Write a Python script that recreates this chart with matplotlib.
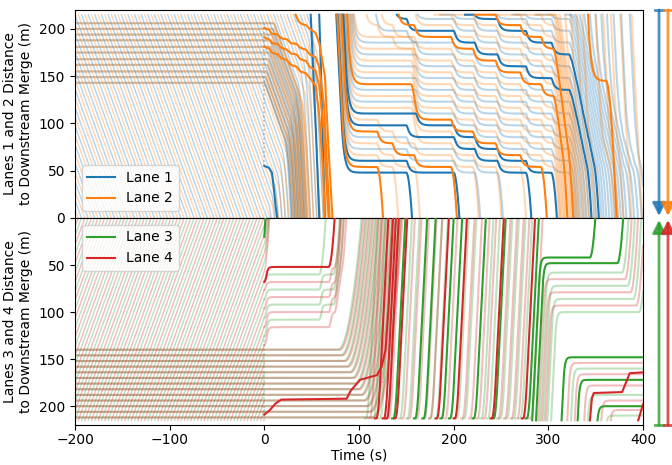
import numpy as np
import matplotlib
matplotlib.use("Agg")
import matplotlib.pyplot as plt
from matplotlib.lines import Line2D
from matplotlib.patches import FancyArrowPatch

BLUE, ORANGE, GREEN, RED = "#1f77b4", "#ff7f0e", "#2ca02c", "#d62728"

# vehicle model settings (m, s)
T_END = 400.0
DT = 0.25
ENTRY = 215.0      # upstream end of the zone
VF = 20.0          # free speed
ACC = 2.5          # max acceleration
TAU = 1.5          # approach time constant towards a stop position
CREEP = 2.8        # drift speed of the warm-up traffic
GAP = 12.5         # queue spacing per lane, lanes 1/2
GAP_LOW = 16.0     # queue spacing per lane, lanes 3/4

# ---------------- lanes 1 and 2 ----------------
# warm-up vehicles: time they pass 215 m
warm_l1 = [-277, -270, -263, -256, -249, -242, -235, -228, -221, -214, -207, -200,
           -193, -186, -179, -172, -165, -158, -151, -144, -137, -130, -123, -116,
           -109, -102, -95, -88, -81, -74, -67, -60, -53, -46, -39, -32, -25, -18,
           -11, -4, 3, 10, 17, 24, 31, 38, 45]
warm_l2 = [-273.5, -266.5, -259.5, -252.5, -245.5, -238.5, -231.5, -224.5, -217.5,
           -210.5, -203.5, -196.5, -189.5, -182.5, -175.5, -168.5, -161.5, -154.5,
           -147.5, -140.5, -133.5, -126.5, -119.5, -112.5, -105.5, -98.5, -91.5,
           -84.5, -77.5, -70.5, -63.5, -56.5, -49.5, -42.5, -35.5, -28.5, -21.5,
           -14.5, -7.5, -0.5, 6.5, 13.5, 20.5, 27.5, 34.5, 41.5]
# release front running upstream after t = 0, per lane: two points (t, y)
wave_l1 = [(4.0, 10.0), (52.0, 215.0)]
wave_l2 = [(7.0, 10.0), (64.0, 215.0)]
# vehicles standing before t = 0 and the time they start rolling
stand_top = [143, 149, 155, 162, 168, 175, 181, 188, 194, 200, 206]
stand_top_go = [0, 1, 2, 3, 4, 5, 6, 7, 8, 9, 10]

# queue after t = 70: arrival at 215 m and departure from the queue head
l1_arrive = [76, 77.5, 79, 80.5, 82, 83.5, 85, 86.5, 88, 90, 92, 94,
             118, 140, 162, 186, 212, 238, 262, 286,
             318, 323, 328, 333, 338, 344, 350, 356, 362, 369, 377, 386]
l1_depart = [150, 200, 222, 246, 276, 303,
             322, 324.6, 327.2, 329.8, 332.4, 335, 337.6, 340.2, 342.8, 345.4,
             348, 350.6, 353.2, 355.8,
             359, 362, 365, 368, 371, 374, 377, 381, 385, 389, 393, 397]
l1_bold = [0, 1, 4, 5, 13, 16]
# upper part of the first platoon stays put: index -> (position, until)
l1_hold = {5: (110.5, 160), 6: (123.0, 160), 7: (135.5, 160), 8: (148.0, 160),
           9: (160.5, 160), 10: (173.0, 160), 11: (185.5, 160)}

l2_arrive = [77, 78.5, 80, 81.5, 83, 84.5, 86, 87.5, 89, 91, 93, 95,
             108, 124, 142, 160, 180, 200, 222, 244, 266, 288,
             300, 306, 312, 318, 324, 330, 336, 342, 350, 358, 366, 376, 388]
l2_depart = [119, 135, 158, 197, 220, 244, 270, 292,
             305, 306.6, 308.2, 309.8, 311.4, 313, 314.6, 316.2, 317.8, 319.4,
             321, 322.6, 324.2, 325.8,
             328, 331, 334, 337, 340, 344, 348, 361, 364, 368, 374, 383, 394]
l2_bold = [0, 3, 7, 14, 18, 29]
l2_hold = {5: (116.5, 155), 6: (129.0, 155), 7: (141.5, 155), 8: (154.0, 155),
           9: (166.5, 155), 10: (179.0, 155), 11: (191.5, 155), 29: (145.0, 361.0)}

# highlighted vehicles already in the zone at t = 0
l1_paths = [
    [(0, 55), (5, 53), (8, 48), (10, 32), (12, 12), (13.5, 0)],
    [(49, 215), (52, 150), (55, 80), (58, 0)],
    [(58, 215), (60, 150), (62, 70), (64, 0)],
]
l2_paths = [
    [(0, 201), (5, 199), (8, 195), (14, 194), (18, 190), (24, 189), (28, 185), (34, 184),
     (38, 180), (44, 178), (48, 173), (54, 170), (58, 160), (63, 120), (66, 60), (69, 0)],
    [(0, 191), (5, 189), (8, 185), (14, 184), (18, 180), (24, 178), (28, 174), (34, 173),
     (38, 168), (44, 166), (48, 160), (54, 156), (58, 140), (63, 90), (66, 30), (68, 0)],
    [(0, 181), (5, 179), (8, 175), (14, 173), (18, 169), (24, 167), (28, 162), (34, 160),
     (38, 155), (44, 153), (49, 147), (54, 140), (58, 110), (62, 50), (64, 0)],
    [(33, 215), (36, 208), (40, 205), (44, 204), (48, 200), (54, 196), (58, 185),
     (64, 150), (68, 70), (72, 0)],
]
# faint dotted marker of the simulation start, (y from, y to) per panel
start_mark_top = (55, 205)
start_mark_low = (130, 212)

# ---------------- lanes 3 and 4 ----------------
warm_l3 = [-277, -270, -263, -256, -249, -242, -235, -228, -221, -214, -207, -200,
           -193, -186, -179, -172, -165, -158, -151, -144, -137, -130, -123, -116,
           -109, -102, -95, -88, -81, -74, -67, -60, -53, -46, -39, -32, -25, -18,
           -11, -4]
warm_l4 = [-273.5, -266.5, -259.5, -252.5, -245.5, -238.5, -231.5, -224.5, -217.5,
           -210.5, -203.5, -196.5, -189.5, -182.5, -175.5, -168.5, -161.5, -154.5,
           -147.5, -140.5, -133.5, -126.5, -119.5, -112.5, -105.5, -98.5, -91.5,
           -84.5, -77.5, -70.5, -63.5, -56.5, -49.5, -42.5, -35.5, -28.5, -21.5,
           -14.5, -7.5, -0.5]
stand_low = [140, 146, 152, 158, 164, 170, 176, 182, 188, 194, 200, 206, 212]
stand_l3_go = [78, 81, 84, 87, 90, 93, 96, 99, 102, 105, 108, 111, 114]
stand_l4_go = [79.5, 82.5, 85.5, 88.5, 91.5, 94.5, 97.5, 100.5, 103.5, 106.5, 109.5, 112.5, 115.5]

# vehicles caught between 60 m and 140 m at t = 0 leave at these times
l3_creep_depart = [58, 73, 75.5, 78]
l4_front = (68.0, 68.0)            # (position at t = 0, departure)
l4_creep_depart = [74, 76.5, 79, 81.5]

# through traffic: time each vehicle pulls away from the upstream end
l3_go = [106, 114, 121, 128, 135, 142, 150, 158, 167, 174, 180, 186, 195, 202, 210,
         220, 228, 235, 241, 248, 255, 262, 269, 276]
l3_bold = [4, 7, 8, 11, 12, 15, 18, 23]
l4_go = [110, 117, 125, 128, 130, 137, 145, 152, 160, 168, 174, 181, 190, 200, 208,
         216, 224, 231, 239, 246, 253, 260, 266, 272, 280]
l4_bold = [1, 2, 3, 5, 11, 13, 18, 23]
THROUGH_ACC = 5.0

# late arrivals that stop: (arrival, stop position, leave time)
l3_late = [(283, 42, 344), (287, 48, 373), (291, 58, 378), (295, 72, 384),
           (299, 86, 390), (303, 100, 396), (314, 148, 999), (324, 160, 999),
           (331, 172, 999), (342, 188, 999), (352, 200, 999), (362, 210, 999)]
l3_late_bold = [0, 1, 6, 8, 10]
l4_late = [(289, 65, 381), (293, 79, 387), (297, 93, 393), (320, 154, 999),
           (328, 166, 999), (338, 178, 999), (356, 194, 999), (366, 204, 999)]

l3_paths = [[(0, 20), (0.6, 10), (1.2, 0)]]
l4_paths = [
    [(0, 209), (6, 204), (12, 197), (18, 193), (87, 192), (91, 184), (101, 172),
     (119, 167), (124, 158), (128, 140), (131, 100), (134, 40), (136, 0)],
    [(344, 215), (346, 192), (348, 186), (378, 185), (382, 175), (386, 165), (400, 164)],
    [(395, 215), (398, 205), (400, 198)],
]


def drive(t0, y0, v0, depart=1e9, ahead=None, q0=None, gap=0.0, hold=-1e9,
          creep_until=-1e9, stop=None, acc=ACC, tau=TAU, t_stop=T_END):
    ts = np.arange(t0, t_stop + DT / 2, DT)
    if q0 is None:
        target = np.full(ts.size, -100.0)
    else:
        ahead = np.asarray(ahead if ahead is not None else [], float)
        n = (ahead[None, :] > ts[:, None]).sum(axis=1)
        target = q0 + gap * n
    if stop is not None:
        level, until = stop
        target = np.where(ts < until, np.maximum(target, level), target)
    target = np.where(ts >= depart, -100.0, target)
    ys = np.empty(ts.size)
    y, v = float(y0), float(v0)
    k = 0
    for k in range(ts.size):
        ys[k] = y
        if y < -2:
            break
        t = ts[k]
        cap = 0.0 if t < hold else (CREEP if t < creep_until else VF)
        want = min(cap, max(0.0, (y - target[k]) / tau))
        v = min(want, v + acc * DT)
        y -= v * DT
    return ts[:k + 1], ys[:k + 1]


def wave_time(wave, ts0, ys0):
    (t1, y1), (t2, y2) = wave
    w = (y2 - y1) / (t2 - t1)
    b = y1 - w * t1
    return max((ys0 + CREEP * ts0 - b) / (w + CREEP), ts0)


def queue_lane(starts, departs, q0, gap, holds=None, tau=TAU):
    out = []
    dep = np.asarray(departs, float)
    for i, ((t0, y0, v0), e) in enumerate(zip(starts, departs)):
        stop = holds.get(i) if holds else None
        out.append(drive(t0, y0, v0, depart=e, ahead=dep[:i], q0=q0, gap=gap,
                         stop=stop, tau=tau))
    return out


def draw(ax, paths, color, bold_idx=(), lw=1.5, alpha=0.3):
    for i, (t, y) in enumerate(paths):
        if i in bold_idx:
            ax.plot(t, y, color=color, lw=1.5, zorder=4)
        else:
            ax.plot(t, y, color=color, lw=lw, alpha=alpha, zorder=2)


def draw_points(ax, paths, color):
    for p in paths:
        t, y = zip(*p)
        ax.plot(t, y, color=color, lw=1.5, zorder=5)


plt.rcParams["font.family"] = "DejaVu Sans"
fig = plt.figure(figsize=(6.72, 4.65), dpi=100)
ax1 = fig.add_axes([0.1116, 0.5312, 0.8452, 0.4473])
ax2 = fig.add_axes([0.1116, 0.086, 0.8452, 0.4452], sharex=ax1)

# ---- top panel: lanes 1 and 2
for warm, wave, color, q0, arr, dep, bold, holds, extra in [
        (warm_l1, wave_l1, BLUE, 48.0, l1_arrive, l1_depart, l1_bold, l1_hold, l1_paths),
        (warm_l2, wave_l2, ORANGE, 54.0, l2_arrive, l2_depart, l2_bold, l2_hold, l2_paths)]:
    ghosts = [drive(a, ENTRY, CREEP, creep_until=wave_time(wave, a, ENTRY)) for a in warm]
    parked = [drive(-205, lv, 0.0, hold=go, creep_until=wave_time(wave, go, lv))
              for lv, go in zip(stand_top, stand_top_go)]
    draw(ax1, ghosts, color, lw=1.0, alpha=0.32)
    draw(ax1, parked, color)
    lane = queue_lane([(a, ENTRY, VF) for a in arr], dep, q0, GAP, holds, tau=3.0)
    draw(ax1, lane, color, bold)
    draw_points(ax1, extra, color)
ax1.plot([0, 0], start_mark_top, color=BLUE, ls=":", lw=1.2, alpha=0.45, zorder=3)

# ---- bottom panel: lanes 3 and 4
for warm, go_list, color, q0, front, creep_dep, go, bold, late, late_bold, extra in [
        (warm_l3, stand_l3_go, GREEN, 60.0, None, l3_creep_depart, l3_go,
         l3_bold, l3_late, l3_late_bold, l3_paths),
        (warm_l4, stand_l4_go, RED, 52.0, l4_front, l4_creep_depart, l4_go,
         l4_bold, l4_late, [], l4_paths)]:
    ghosts = []
    creepers = []
    for a in warm:
        y_now = ENTRY + CREEP * a
        if y_now <= 0:
            ghosts.append(drive(a, ENTRY, CREEP, creep_until=1e9))
        elif y_now < 60:
            ghosts.append(drive(a, ENTRY, CREEP, creep_until=0.0))
        else:
            ghosts.append(drive(a, ENTRY, CREEP, creep_until=1e9, t_stop=0.0))
            if y_now < 140:
                creepers.append(y_now)
    draw(ax2, ghosts, color, lw=1.0, alpha=0.32)
    parked = [drive(-205, lv, 0.0, hold=g, acc=0.45) for lv, g in zip(stand_low, go_list)]
    draw(ax2, parked, color)

    starts, departs, bold_q = [], [], []
    if front is not None:
        starts.append((0.0, front[0], 0.0))
        departs.append(front[1])
        bold_q.append(0)
    for y0, e in zip(sorted(creepers), creep_dep):
        starts.append((0.0, y0, 0.0))
        departs.append(e)
    draw(ax2, queue_lane(starts, departs, q0, GAP_LOW), color, bold_q)

    through = [drive(g, 213.0, 0.0, hold=g + 1.5, acc=THROUGH_ACC) for g in go]
    draw(ax2, through, color, bold)

    late_paths = [drive(a, ENTRY, VF, stop=(lv, until), depart=until) for a, lv, until in late]
    draw(ax2, late_paths, color, late_bold)
    draw_points(ax2, extra, color)
ax2.plot([0, 0], start_mark_low, color=GREEN, ls=":", lw=1.2, alpha=0.4, zorder=3)

ax1.set_xlim(-200, 400)
ax1.set_ylim(0, 220)
ax2.set_ylim(220, 0)
ax2.set_yticks([50, 100, 150, 200])
ax1.set_yticks([0, 50, 100, 150, 200])
ax2.set_xticks([-200, -100, 0, 100, 200, 300, 400])
ax1.tick_params(axis="x", bottom=False, labelbottom=False)
ax2.tick_params(axis="x", pad=2)
ax1.set_ylabel("Lanes 1 and 2 Distance\nto Downstream Merge (m)")
ax2.set_ylabel("Lanes 3 and 4 Distance\nto Downstream Merge (m)")
ax2.set_xlabel("Time (s)", labelpad=1)

ax1.legend(handles=[Line2D([], [], color=BLUE, lw=1.5, label="Lane 1"),
                    Line2D([], [], color=ORANGE, lw=1.5, label="Lane 2")],
           loc="lower left")
ax2.legend(handles=[Line2D([], [], color=GREEN, lw=1.5, label="Lane 3"),
                    Line2D([], [], color=RED, lw=1.5, label="Lane 4")],
           loc="upper left")

# direction of travel, outside the axes
for x, color, y_from, y_to in [(0.9807, BLUE, 0.9785, 0.5355), (0.994, ORANGE, 0.9785, 0.5355),
                               (0.9807, GREEN, 0.086, 0.527), (0.994, RED, 0.086, 0.527)]:
    fig.add_artist(FancyArrowPatch((x, y_from), (x, y_to), transform=fig.transFigure,
                                   arrowstyle="-|>,head_width=0.28,head_length=0.55",
                                   mutation_scale=14, color=color, lw=2.0, alpha=0.8,
                                   shrinkA=0, shrinkB=0))
    fig.add_artist(Line2D([x - 0.0065, x + 0.0065], [y_from, y_from],
                          transform=fig.transFigure, color=color, lw=2.0, alpha=0.8))

fig.savefig("out.png", dpi=100)
